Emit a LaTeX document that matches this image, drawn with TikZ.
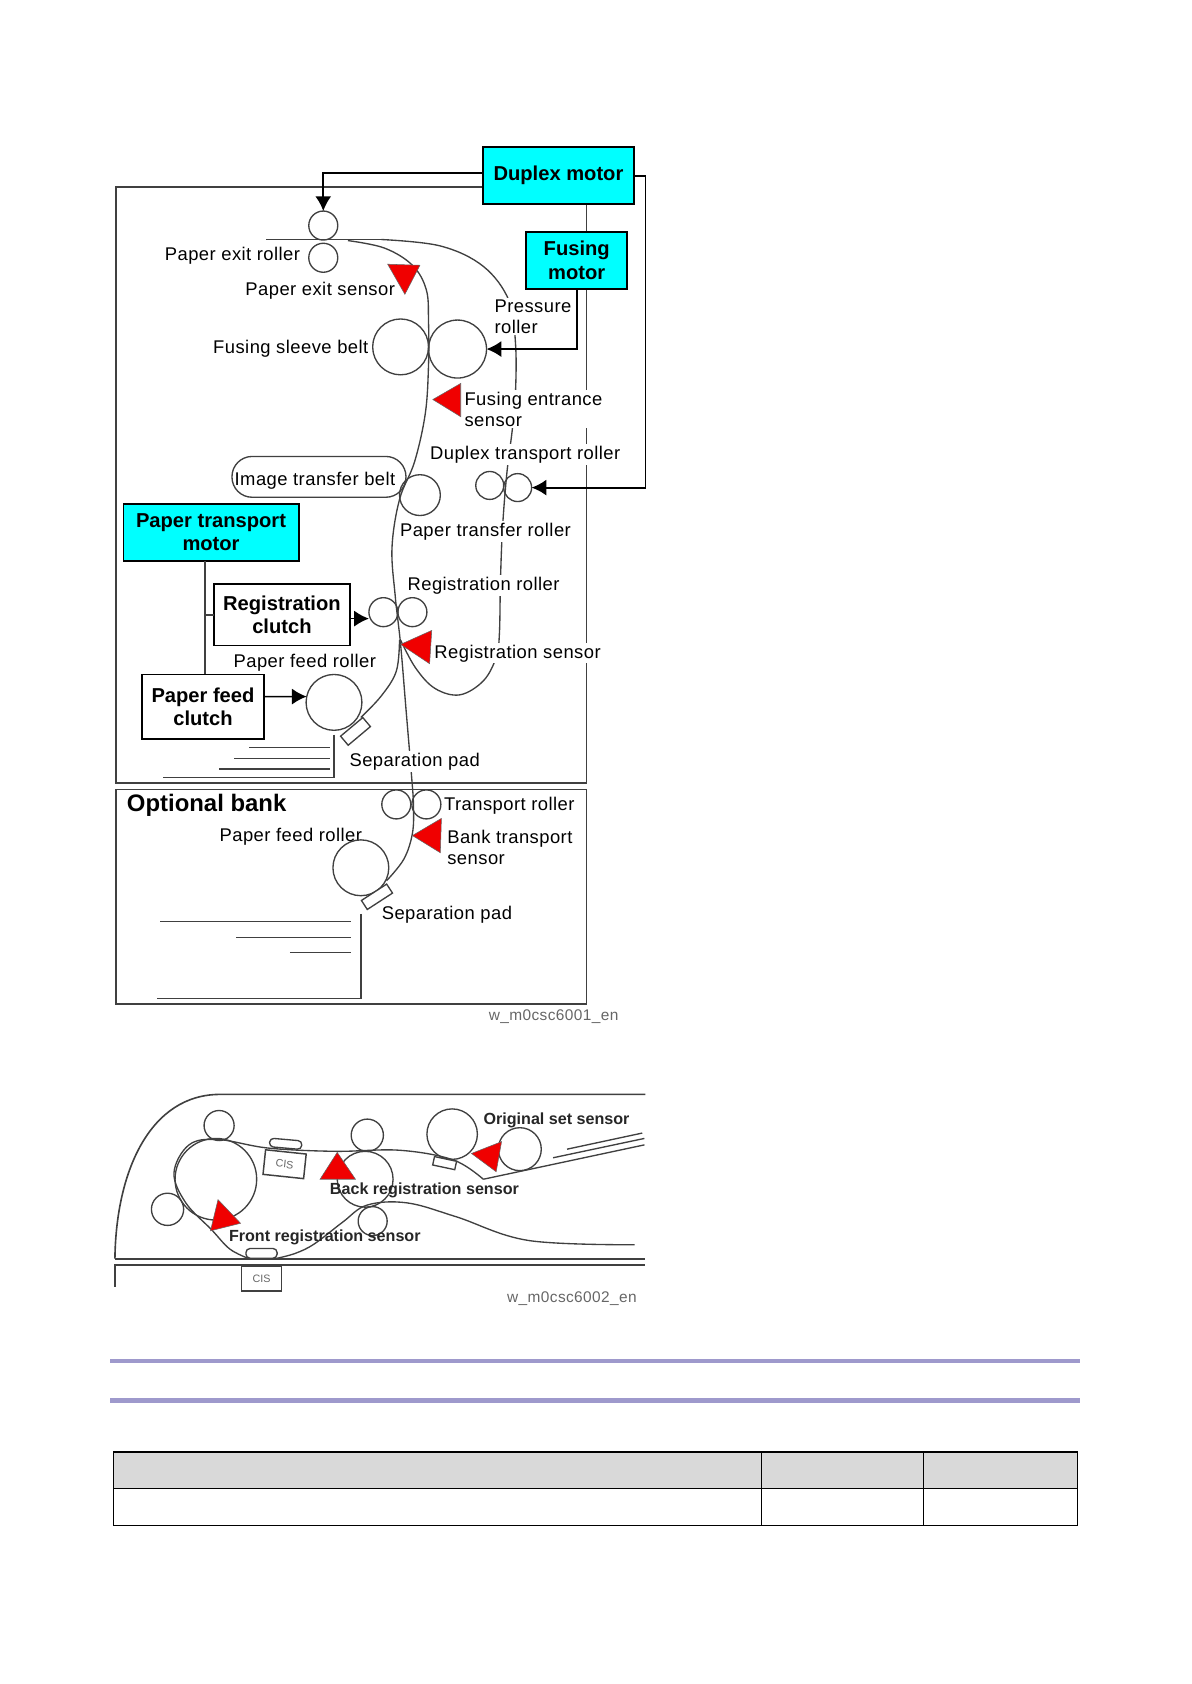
\documentclass[tikz,border=0pt]{standalone}
\usepackage{fontspec}
\setmainfont{Liberation Sans}
\newfontfamily\lblfont[LetterSpace=2.5]{Liberation Sans}
\usetikzlibrary{arrows.meta, positioning, calc}

\definecolor{motorcyan}{HTML}{00FFFF}
\definecolor{sensorred}{HTML}{F00000}
\definecolor{linegray}{HTML}{404040}
\definecolor{rulepurple}{HTML}{9E99CC}
\definecolor{headgray}{HTML}{D9D9D9}

\def\unit{0.8pt}

\tikzset{
  framebox/.style={draw=linegray, line width=1.2pt},
  paperpath/.style={draw=linegray, line width=1pt},
  traybar/.style={draw=linegray, line width=1pt},
  drive/.style={draw=black, line width=1.4pt, -{Latex[length=11pt,width=12pt]}},
  drivelink/.style={draw=linegray, line width=1.2pt},
  motorbox/.style={draw=black, fill=motorcyan, line width=1.4pt, font=\fontsize{15}{17.5}\selectfont\bfseries, align=center, inner sep=0pt, outer sep=0pt},
  clutchbox/.style={draw=black, fill=white, line width=1.4pt, font=\fontsize{15}{17.5}\selectfont\bfseries, align=center, inner sep=0pt, outer sep=0pt},
  roller/.style={circle, draw=linegray, line width=1pt, inner sep=0pt, outer sep=0pt, minimum size=#1*\unit},
  lbl/.style={font=\lblfont\fontsize{13.7}{16}\selectfont, fill=white, inner sep=1pt, anchor=west, text height=10.5pt, text depth=3pt},
  lbltwo/.style={font=\lblfont\fontsize{13.7}{16}\selectfont, fill=white, inner sep=1pt, anchor=west, align=left},
  scanlbl/.style={font=\fontsize{12}{14}\selectfont\bfseries, inner sep=0pt, anchor=west, text=black!85},
  figtag/.style={font=\lblfont\fontsize{11.5}{13}\selectfont, text=black!60, inner sep=0pt, anchor=west},
  sensor/.style={fill=sensorred, draw=black!60, line width=0.4pt},
  pad/.style={draw=linegray, fill=white, line width=1pt, inner sep=0pt, outer sep=0pt},
  cisbox/.style={draw=linegray, fill=white, line width=1.1pt, font=\fontsize{8}{9}\selectfont, text=black!60, inner sep=0pt, outer sep=0pt},
}

\begin{document}
\begin{tikzpicture}[x=\unit, y=-\unit]
\useasboundingbox (0,0) rectangle (1109,1568);

% --- Machine frames ---
\draw[framebox] (108,174) rectangle (546,729);
\draw[framebox] (108,735) rectangle (546,935);

% Paper path: main vertical run
\draw[paperpath] plot[smooth, tension=0.6] coordinates {(324,224) (358,231) (384,247) (397,270) (399,300) (399,340) (396,385) (386,430) (372,465) (365,510) (368,555) (373,600) (378,660) (383,720) (385,750) (384,776) (376,800) (360,820)};
\draw[paperpath] (248,223) -- (360,223);
% Paper path: duplex return
\draw[paperpath] plot[smooth, tension=0.6] coordinates {(355,223) (410,229) (450,248) (474,280) (480,320) (480,365) (477,400) (472,440) (468,490) (466,540) (465,590) (462,612) (450,634) (428,647) (405,641) (387,622) (373,596)};
% Paper path: feed from tray
\draw[paperpath] plot[smooth, tension=0.6] coordinates {(372,596) (369,625) (355,648) (336,668)};

% Trays
\draw[traybar] (311,684) -- (311,724) -- (152,724);
\draw[traybar] (232,696) -- (307,696);
\draw[traybar] (218,706) -- (307,706);
\draw[traybar] (204,716) -- (307,716);
\draw[traybar] (336,851) -- (336,930) -- (146,930);
\draw[traybar] (149,858) -- (327,858);
\draw[traybar] (220,873) -- (327,873);
\draw[traybar] (270,887) -- (327,887);

% --- Labels (white ground breaks the lines behind them) ---
\node[lbl] (exitrollerlbl) at (152,238) {Paper exit roller};
\node[lbl] (exitsensorlbl) at (227,270) {Paper exit sensor};
\node[lbltwo] (pressurelbl) at (459,295) {Pressure\\roller};
\node[lbl] (sleevelbl) at (197,324) {Fusing sleeve belt};
\node[lbltwo] (entrancelbl) at (431,381) {Fusing entrance\\sensor};
\node[lbl] (duplexlbl) at (399,423) {Duplex transport roller};
\node[lbl] (transferlbl) at (371,495) {Paper transfer roller};
\node[lbl] (reglbl) at (378,545) {Registration roller};
\node[lbl] (regsensorlbl) at (403,608) {Registration sensor};
\node[lbl] (feedlbl) at (216,617) {Paper feed roller};
\node[lbl] (padlbl) at (324,709) {Separation pad};
\node[lbl] (transportlbl) at (412,750) {Transport roller};
\node[lbl] (bankfeedlbl) at (203,779) {Paper feed roller};
\node[lbltwo] (banksensorlbl) at (415,789) {Bank transport\\sensor};
\node[lbl] (bankpadlbl) at (354,851) {Separation pad};
\node[font=\fontsize{17.8}{20}\selectfont\bfseries, inner sep=0pt, anchor=west] (banklbl) at (118,750) {Optional bank};
\node[figtag] (tagone) at (455,947) {w\_m0csc6001\_en};

% Image transfer belt
\node[draw=linegray, fill=white, line width=1pt, rounded corners=15pt, minimum width=162*\unit, minimum height=38*\unit, inner sep=0pt, outer sep=0pt] (belt) at (297,444) {};
\node[lbl, fill=none] (beltlbl) at (217,447) {Image transfer belt};

% --- Rollers ---
\node[roller=27] (exitA) at (301,210) {};
\node[roller=27] (exitB) at (301,240) {};
\node[roller=52] (fuseL) at (373,323) {};
\node[roller=54] (fuseR) at (426,325) {};
\node[roller=38] (transferR) at (391,461) {};
\node[roller=26] (dupA) at (456,452) {};
\node[roller=26] (dupB) at (482,454) {};
\node[roller=27] (regA) at (357,570) {};
\node[roller=27] (regB) at (384,570) {};
\node[roller=52] (feedR) at (311,654) {};
\node[roller=27] (transA) at (369,749) {};
\node[roller=27] (transB) at (397,749) {};
\node[roller=52] (bankfeedR) at (336,808) {};

% Separation pads
\node[pad, rotate=40, minimum width=27*\unit, minimum height=11*\unit] (padA) at (331,681) {};
\node[pad, rotate=33, minimum width=28*\unit, minimum height=10*\unit] (padB) at (351,835) {};

% --- Motors and clutches ---
\node[motorbox, minimum width=140*\unit, minimum height=53*\unit] (duplex) at (520,163.5) {\raisebox{-1.5pt}{Duplex motor}};
\node[motorbox, minimum width=94*\unit, minimum height=53*\unit] (fusing) at (537,242.5) {Fusing\\motor};
\node[motorbox, minimum width=163*\unit, minimum height=53*\unit] (ptmotor) at (196.5,495.5) {Paper transport\\motor};
\node[clutchbox, minimum width=127*\unit, minimum height=57*\unit] (regclutch) at (262.5,572.5) {Registration\\clutch};
\node[clutchbox, minimum width=114*\unit, minimum height=60*\unit] (feedclutch) at (189,658) {Paper feed\\clutch};

% --- Drive lines ---
\coordinate (dupleft) at (450,161);
\coordinate (dupturn) at (601,163.5);
\coordinate (feedin) at (246,648.6);
\coordinate (regout) at (326,576);
\coordinate (ptdrop) at (191,522);
\draw[drive] (dupleft) -| (exitA);
\draw[drive] (duplex.east) -- (dupturn) |- (dupB);
\draw[drive] (fusing.south) |- (fuseR);
\draw[drivelink] (ptdrop) -- (ptdrop |- feedclutch.north);
\draw[drivelink] (regclutch.west) -- (regclutch.west -| ptdrop);
\draw[drive, line width=1.2pt] (regout) -- (regout -| regA.west);
\draw[drive, line width=1.2pt] (feedin) -- (feedR.168);

% --- Sensors ---
\draw[sensor] (361,246) -- (391,247) -- (377,274) -- cycle;
\draw[sensor] (429,357) -- (403,372) -- (429,388) -- cycle;
\draw[sensor] (402,587) -- (373,600) -- (400,618) -- cycle;
\draw[sensor] (411,762) -- (384,778) -- (410,794) -- cycle;

% --- Scanner section ---
\draw[framebox] (107,1172) .. controls (108,1090) and (140,1019) .. (205,1019) -- (601,1019);
\draw[framebox] (107,1172) -- (601,1172);
\draw[framebox] (107,1198) -- (107,1178) -- (601,1178);

\draw[paperpath] plot[smooth, tension=0.6] coordinates {(232,1172) (214,1163) (197,1145) (173,1120) (162,1092) (176,1066) (203,1061) (250,1069) (312,1072) (372,1071) (422,1080) (450,1098)};
\draw[paperpath] (450,1098) -- (600,1066);
\draw[paperpath] plot[smooth, tension=0.6] coordinates {(256,1172) (275,1167) (293,1158) (319,1138) (342,1122) (379,1120) (425,1133) (492,1155) (591,1159)};
\draw[traybar] (515,1078) -- (600,1060);
\draw[traybar] (528,1070) -- (598,1055);

\node[roller=28] (scanA) at (204,1048) {};
\node[roller=76] (scanDrum) at (201,1098) {};
\node[roller=30] (scanB) at (156,1126) {};
\node[roller=30] (scanC) at (342,1057) {};
\node[roller=52] (scanD) at (340,1098) {};
\node[roller=27] (scanE) at (347,1137) {};
\node[roller=47] (scanF) at (421,1056) {};
\node[roller=40] (scanG) at (484,1070) {};

\node[pad, rotate=-12, minimum width=21*\unit, minimum height=8*\unit] (scanpad) at (414,1083) {};
\node[pad, rotate=-5, rounded corners=3pt, minimum width=30*\unit, minimum height=8*\unit] (glassA) at (266,1065) {};
\node[pad, rounded corners=3pt, minimum width=29*\unit, minimum height=9*\unit] (glassB) at (243.5,1167) {};
\node[cisbox, rotate=-6, minimum width=38*\unit, minimum height=23*\unit] (cisA) at (265,1084) {CIS};
\node[cisbox, minimum width=37*\unit, minimum height=23*\unit] (cisB) at (243.5,1190.5) {CIS};

\draw[sensor] (203,1117) -- (224,1139) -- (196,1146) -- cycle;
\draw[sensor] (314,1073) -- (331,1098) -- (298,1098) -- cycle;
\draw[sensor] (467,1063) -- (462,1091) -- (439,1074) -- cycle;

\node[scanlbl] (setlbl) at (450,1043) {Original set sensor};
\node[scanlbl] (backlbl) at (307,1108) {Back registration sensor};
\node[scanlbl] (frontlbl) at (213,1152) {Front registration sensor};
\node[figtag] (tagtwo) at (472,1209) {w\_m0csc6002\_en};

% --- Rules and table ---
\fill[rulepurple] (102,1265) rectangle (1006,1269);
\fill[rulepurple] (102,1302) rectangle (1006,1306);

\fill[headgray] (105.5,1352) rectangle (1003,1386);
\draw[black, line width=0.9pt] (105.5,1352) rectangle (1003,1420.5);
\draw[black, line width=0.9pt] (105.5,1386) -- (1003,1386);
\draw[black, line width=0.9pt] (709,1352) -- (709,1420.5);
\draw[black, line width=0.9pt] (860,1352) -- (860,1420.5);

\end{tikzpicture}
\end{document}
